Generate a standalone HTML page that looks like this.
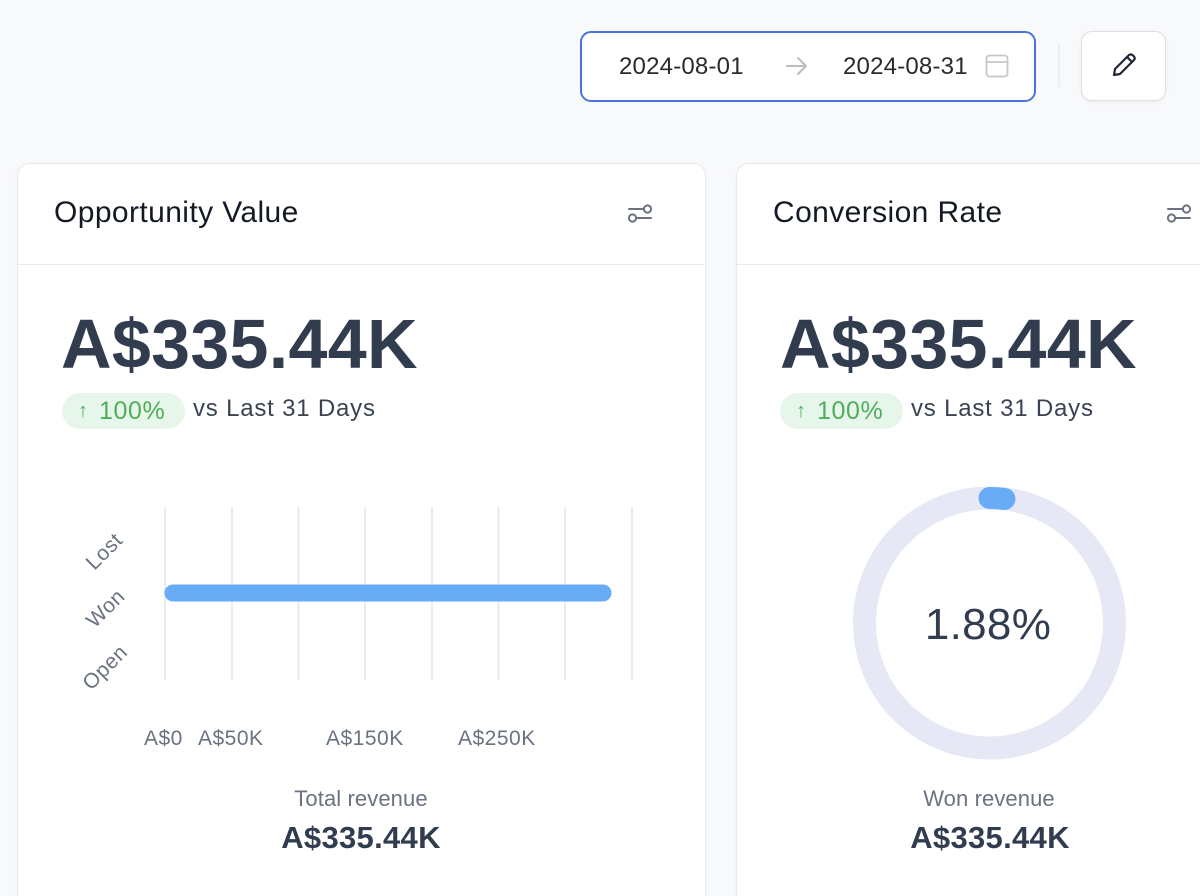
<!DOCTYPE html>
<html>
<head>
<meta charset="utf-8">
<style>
  html,body{margin:0;padding:0;width:1200px;height:896px;overflow:hidden;}
  body{background:#f8f9fb;position:relative;font-family:"Liberation Sans",Arial,sans-serif;}
  .abs{position:absolute;}
  .datebox{left:580px;top:31px;width:452px;height:67px;border:2px solid #4a74dc;border-radius:11px;background:#fff;}
  .dt{font-size:24px;color:#2b2b2b;top:53px;letter-spacing:0.2px;}
  .editbtn{left:1081px;top:31px;width:83px;height:68px;border:1px solid #dcdfe4;border-radius:11px;background:#fff;box-shadow:0 1px 3px rgba(0,0,0,0.06);}
  .sep{left:1058px;top:44px;width:2px;height:43px;background:#eceef1;}
  .card{top:163px;background:#fff;border:1px solid #e8eaee;border-radius:13px;height:760px;box-shadow:0 1px 4px rgba(0,0,0,0.04);}
  .hdiv{top:264px;height:1px;background:#e9ebef;}
  .title{font-size:30px;color:#141a24;top:196px;letter-spacing:0.4px;}
  .big{font-size:70px;font-weight:bold;color:#323c4f;top:304px;letter-spacing:0.3px;}
  .badge{top:393px;width:123px;height:36px;border-radius:18px;background:#e7f6ea;}
  .badge span{position:absolute;top:4px;color:#4fae5c;font-size:25px;letter-spacing:0.6px;}
  .vs{top:395px;font-size:24px;color:#3a4352;letter-spacing:0.8px;}
  .tick{font-size:21px;color:#6b7280;top:727px;letter-spacing:0.5px;}
  .ylab{font-size:21px;color:#6b7280;transform:rotate(-45deg);transform-origin:center center;letter-spacing:0.5px;}
  .sub{font-size:22px;color:#6b7280;top:786px;text-align:center;width:300px;letter-spacing:0.1px;}
  .subv{font-size:31px;font-weight:bold;color:#323c4f;top:820px;text-align:center;width:300px;letter-spacing:0.3px;}
</style>
</head>
<body>
  <!-- top controls -->
  <div class="abs datebox"></div>
  <div class="abs dt" style="left:619px;">2024-08-01</div>
  <svg class="abs" style="left:784px;top:54px;" width="26" height="24" viewBox="0 0 26 24">
    <path d="M3 12 H22 M14 4 L22 12 L14 20" stroke="#b9bcc2" stroke-width="2" fill="none" stroke-linecap="round" stroke-linejoin="round"/>
  </svg>
  <div class="abs dt" style="left:843px;">2024-08-31</div>
  <svg class="abs" style="left:985px;top:54px;" width="24" height="24" viewBox="0 0 24 24">
    <rect x="1.5" y="1.5" width="21" height="21" rx="3" stroke="#c4c7cc" stroke-width="1.8" fill="none"/>
    <line x1="1.5" y1="8" x2="22.5" y2="8" stroke="#c4c7cc" stroke-width="1.8"/>
  </svg>
  <div class="abs sep"></div>
  <div class="abs editbtn"></div>
  <svg class="abs" style="left:1109px;top:52px;" width="30" height="28" viewBox="0 0 30 28">
    <path d="M5 23 L6 17 L20 3 Q22 1.5 24 3.5 L25 4.5 Q26.5 6.5 25 8 L11 22 Z M18 5 L23 10" stroke="#1f2533" stroke-width="2.2" fill="none" stroke-linejoin="round" stroke-linecap="round"/>
  </svg>

  <!-- left card -->
  <div class="abs card" style="left:17px;width:687px;"></div>
  <div class="abs hdiv" style="left:18px;width:686px;"></div>
  <div class="abs title" style="left:54px;">Opportunity Value</div>
  <svg class="abs" style="left:626px;top:202px;" width="28" height="22" viewBox="0 0 28 22">
    <line x1="3" y1="7" x2="18" y2="7" stroke="#6b7280" stroke-width="2" stroke-linecap="round"/>
    <circle cx="21.5" cy="7" r="3.6" stroke="#6b7280" stroke-width="2" fill="none"/>
    <line x1="10" y1="16" x2="25" y2="16" stroke="#6b7280" stroke-width="2" stroke-linecap="round"/>
    <circle cx="6.5" cy="16" r="3.6" stroke="#6b7280" stroke-width="2" fill="none"/>
  </svg>
  <div class="abs big" style="left:61px;">A$335.44K</div>
  <div class="abs badge" style="left:62px;"><span style="left:16px;font-size:20px;top:7px;">↑</span><span style="left:37px;">100%</span></div>
  <div class="abs vs" style="left:193px;">vs Last 31 Days</div>

  <svg class="abs" style="left:0;top:0;" width="720" height="896">
    <g stroke="#e2e5ee" stroke-width="1.5">
      <line x1="165" y1="507" x2="165" y2="680"/>
      <line x1="232" y1="507" x2="232" y2="680"/>
      <line x1="298.5" y1="507" x2="298.5" y2="680"/>
      <line x1="365" y1="507" x2="365" y2="680"/>
      <line x1="432" y1="507" x2="432" y2="680"/>
      <line x1="498.5" y1="507" x2="498.5" y2="680"/>
      <line x1="565" y1="507" x2="565" y2="680"/>
      <line x1="632" y1="507" x2="632" y2="680"/>
    </g>
    <line x1="173" y1="593" x2="603" y2="593" stroke="#68acf6" stroke-width="17" stroke-linecap="round"/>
  </svg>
  <div class="abs ylab" style="left:84px;top:540px;">Lost</div>
  <div class="abs ylab" style="left:84px;top:597px;">Won</div>
  <div class="abs ylab" style="left:79px;top:656px;">Open</div>
  <div class="abs tick" style="left:144px;">A$0</div>
  <div class="abs tick" style="left:198px;">A$50K</div>
  <div class="abs tick" style="left:326px;">A$150K</div>
  <div class="abs tick" style="left:458px;">A$250K</div>
  <div class="abs sub" style="left:211px;">Total revenue</div>
  <div class="abs subv" style="left:211px;">A$335.44K</div>

  <!-- right card -->
  <div class="abs card" style="left:736px;width:500px;"></div>
  <div class="abs hdiv" style="left:737px;width:463px;"></div>
  <div class="abs title" style="left:773px;">Conversion Rate</div>
  <svg class="abs" style="left:1165px;top:202px;" width="28" height="22" viewBox="0 0 28 22">
    <line x1="3" y1="7" x2="18" y2="7" stroke="#6b7280" stroke-width="2" stroke-linecap="round"/>
    <circle cx="21.5" cy="7" r="3.6" stroke="#6b7280" stroke-width="2" fill="none"/>
    <line x1="10" y1="16" x2="25" y2="16" stroke="#6b7280" stroke-width="2" stroke-linecap="round"/>
    <circle cx="6.5" cy="16" r="3.6" stroke="#6b7280" stroke-width="2" fill="none"/>
  </svg>
  <div class="abs big" style="left:780px;">A$335.44K</div>
  <div class="abs badge" style="left:780px;"><span style="left:16px;font-size:20px;top:7px;">↑</span><span style="left:37px;">100%</span></div>
  <div class="abs vs" style="left:911px;">vs Last 31 Days</div>

  <svg class="abs" style="left:840px;top:474px;" width="300" height="300" viewBox="840 474 300 300">
    <circle cx="989.5" cy="623" r="125" stroke="#e6e9f5" stroke-width="23" fill="none"/>
    <circle cx="989.5" cy="623" r="125" stroke="#68acf6" stroke-width="22" fill="none"
      stroke-dasharray="15 800" stroke-linecap="round" transform="rotate(-90 989.5 623)"/>
  </svg>
  <div class="abs" style="left:838px;top:600px;width:300px;text-align:center;font-size:44px;color:#323c4f;letter-spacing:0.3px;">1.88%</div>
  <div class="abs sub" style="left:839px;">Won revenue</div>
  <div class="abs subv" style="left:840px;">A$335.44K</div>
</body>
</html>
